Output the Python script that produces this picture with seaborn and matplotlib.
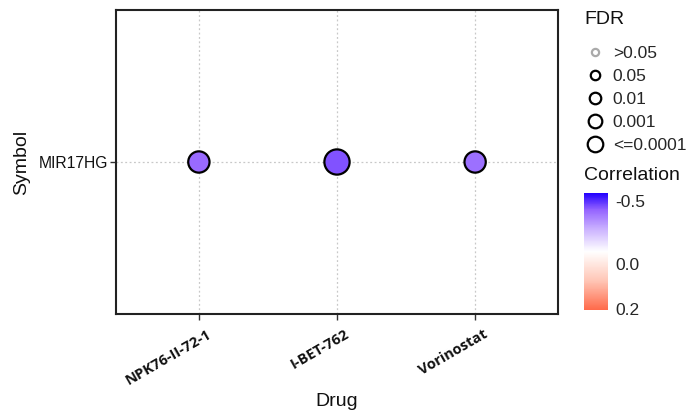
import matplotlib
matplotlib.use("Agg")
import matplotlib.pyplot as plt
from matplotlib.colors import LinearSegmentedColormap, TwoSlopeNorm
from matplotlib.lines import Line2D
from matplotlib.transforms import ScaledTranslation
import matplotlib.cm as cm
import pandas as pd
import seaborn as sns

# Drug-gene association data
drugs = ["NPK76-II-72-1", "I-BET-762", "Vorinostat"]
symbols = ["MIR17HG", "MIR17HG", "MIR17HG"]
correlation = [-0.34, -0.38, -0.33]
fdr_class = ["0.01", "0.001", "0.01"]

fdr_levels = [">0.05", "0.05", "0.01", "0.001", "<=0.0001"]
cbar_ticks = [-0.5, 0.0, 0.2]
cbar_labels = ["-0.5", "0.0", "0.2"]

df = pd.DataFrame({"Drug": drugs, "Symbol": symbols,
                   "Correlation": correlation, "FDR": fdr_class})

sns.set_theme(style="white")
plt.rcParams["font.family"] = ["Liberation Sans", "DejaVu Sans"]

cmap = LinearSegmentedColormap.from_list(
    "corr",
    [(0.0, "#2200ff"), (0.14, "#9362ff"), (0.3, "#c8aeff"),
     (0.5, "#ffffff"), (0.75, "#ffc6b6"), (1.0, "#ff6a4a")])
norm = TwoSlopeNorm(vmin=-0.5, vcenter=0.0, vmax=0.2)

W, H = 689, 412
fig = plt.figure(figsize=(W / 100, H / 100), dpi=100)
ax = fig.add_axes([116 / W, 1 - 314 / H, 442 / W, 304 / H])

size_map = {">0.05": 90, "0.05": 140, "0.01": 235, "0.001": 330, "<=0.0001": 420}
ax.grid(True, color="#c8c8c8", linestyle=(0, (1.5, 2)), linewidth=0.9)
ax.set_axisbelow(True)
sns.scatterplot(data=df, x="Drug", y="Symbol", hue="Correlation",
                palette=cmap, hue_norm=norm, size="FDR", sizes=size_map,
                edgecolor="black", linewidth=1.6, legend=False, ax=ax,
                zorder=3)

ax.set_xlim(-0.6, len(drugs) - 1 + 0.6)
ax.set_ylim(-1, 1)
for s in ax.spines.values():
    s.set_color("#222222")
    s.set_linewidth(1.5)
ax.tick_params(axis="both", which="both", length=4, width=1, color="#333333",
               bottom=True, left=True, pad=2)
ax.set_xticks(range(len(drugs)))
ax.set_xticklabels(drugs, rotation=30, ha="right", rotation_mode="anchor",
                   fontsize=10.5, fontweight="bold",
                   family=["Open Sans", "DejaVu Sans"], color="#111111")
shift = ScaledTranslation(8 / 100, -5 / 100, fig.dpi_scale_trans)
for lab in ax.get_xticklabels():
    lab.set_transform(lab.get_transform() + shift)
ax.tick_params(axis="y", labelsize=11.3)
for t in ax.get_yticklabels():
    t.set_color("#111111")
ax.set_xlabel("Drug", fontsize=14, color="#111111", labelpad=4)
ax.set_ylabel("Symbol", fontsize=14, color="#111111", labelpad=6)

# FDR size legend
fig.text(584 / W, 1 - 20 / H, "FDR", fontsize=14, va="center", ha="left",
         color="#111111")
leg_ms = [5.2, 6.8, 8.3, 9.8, 11.2]
handles = []
for lvl, ms in zip(fdr_levels, leg_ms):
    col = "#aaaaaa" if lvl == ">0.05" else "black"
    handles.append(Line2D([], [], linestyle="none", marker="o", markersize=ms,
                          markerfacecolor="white", markeredgecolor=col,
                          markeredgewidth=1.6))
leg = fig.legend(handles, fdr_levels, loc="upper left",
                 bbox_to_anchor=(584 / W, 1 - 45.5 / H), frameon=False,
                 fontsize=12.5, handletextpad=0.35,
                 labelspacing=0.46, handlelength=1.3, borderaxespad=0,
                 borderpad=0)

# Correlation colour bar
fig.text(584 / W, 1 - 176 / H, "Correlation", fontsize=14, va="center",
         ha="left", color="#111111")
cax = fig.add_axes([584 / W, 1 - 310 / H, 24 / W, 117 / H])
sm = cm.ScalarMappable(norm=norm, cmap=cmap)
cb = fig.colorbar(sm, cax=cax, ticks=cbar_ticks)
cb.outline.set_visible(False)
cax.invert_yaxis()
cax.tick_params(length=0, labelsize=12.5, pad=5)
cb.set_ticklabels(cbar_labels)
for lab, dy in zip(cax.get_yticklabels(), [-8, -12, 1]):
    lab.set_transform(lab.get_transform()
                      + ScaledTranslation(0, dy / 100, fig.dpi_scale_trans))

fig.savefig("out.png", dpi=100)
